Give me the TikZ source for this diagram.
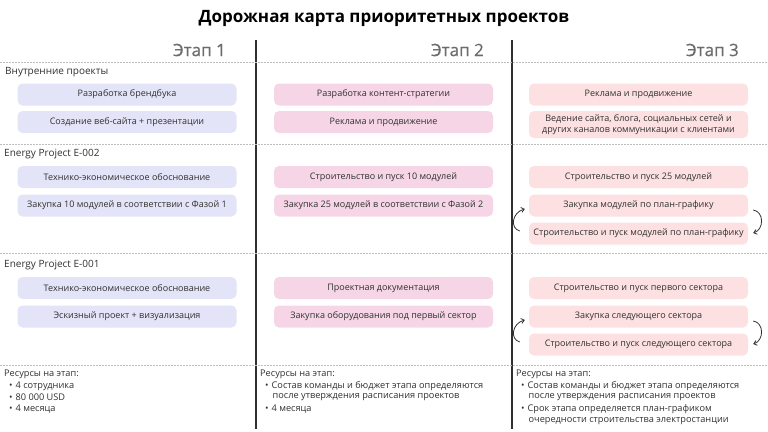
\documentclass[tikz,border=0pt]{standalone}
\usepackage{fontspec}
\setmainfont{Open Sans}
\newfontfamily\stagefont[FakeBold=0.7]{Open Sans}
\usetikzlibrary{arrows.meta,calc}
\definecolor{txt}{HTML}{303030}
\definecolor{stage}{HTML}{6C6C6C}
\definecolor{boxA}{HTML}{E4E4F8}
\definecolor{boxB}{HTML}{F6D6E6}
\definecolor{boxC}{HTML}{FDE1E2}
\definecolor{dash}{HTML}{BDBDBD}
\begin{document}
\begin{tikzpicture}[x=1pt,y=-1pt,
  box/.style={rounded corners=5pt, minimum width=219pt, minimum height=22pt, inner sep=0pt,
    align=center, font=\fontsize{9}{11}\selectfont, text=txt},
  colA/.style={box, fill=boxA},
  colB/.style={box, fill=boxB},
  colC/.style={box, fill=boxC},
  seclabel/.style={anchor=west, inner sep=0pt, font=\fontsize{10}{12}\selectfont, text=txt},
  stagelabel/.style={anchor=east, inner sep=0pt, font=\stagefont\fontsize{17}{20}\selectfont, text=stage},
  resline/.style={anchor=west, inner sep=0pt, font=\fontsize{9.2}{11}\selectfont, text=txt},
  sep/.style={draw=dash, dashed, dash pattern=on 2pt off 1pt, line width=0.6pt},
  vline/.style={draw=txt, line width=1.1pt},
  cyc/.style={draw=txt, line width=0.8pt, -{Straight Barb[length=3pt,width=5pt]}}
]
\useasboundingbox (0,0) rectangle (768,431);

% title
\node[font=\bfseries\fontsize{17}{20}\selectfont, text=black, inner sep=0pt] (title) at (384,18) {Дорожная карта приоритетных проектов};

% vertical separators
\coordinate (v1t) at (256,40); \coordinate (v1b) at (256,429);
\coordinate (v2t) at (512,40); \coordinate (v2b) at (512,429);
\draw[vline] (v1t) -- (v1b);
\draw[vline] (v2t) -- (v2b);

% stage labels
\node[stagelabel] (s1) at (226,50) {Этап 1};
\node[stagelabel] (s2) at (484,50) {Этап 2};
\node[stagelabel] (s3) at (739,50) {Этап 3};

% dashed separators
\coordinate (d1l) at (0,62);  \coordinate (d1r) at (768,62);
\coordinate (d2l) at (0,144); \coordinate (d2r) at (768,144);
\coordinate (d3l) at (0,253); \coordinate (d3r) at (768,253);
\coordinate (d4l) at (0,365); \coordinate (d4r) at (768,365);
\draw[sep] (d1l) -- (d1r);
\draw[sep] (d2l) -- (d2r);
\draw[sep] (d3l) -- (d3r);
\draw[sep] (d4l) -- (d4r);

% section labels
\node[seclabel] (g1) at (5,72) {Внутренние проекты};
\node[seclabel] (g2) at (4,154.5) {Energy Project E-002};
\node[seclabel] (g3) at (4,265) {Energy Project E-001};

% internal projects
\node[colA] (a11) at (127,94.5) {Разработка брендбука};
\node[colA] (a12) at (127,122) {Создание веб-сайта + презентации};
\node[colB] (b11) at (383.5,94.5) {Разработка контент-стратегии};
\node[colB] (b12) at (383.5,122) {Реклама и продвижение};
\node[colC] (c11) at (638.5,94.5) {Реклама и продвижение};
\node[colC, minimum height=27pt, font=\fontsize{9}{10.5}\selectfont] (c12) at (638.5,124.5) {Ведение сайта, блога, социальных сетей и\\других каналов коммуникации с клиентами};

% E-002
\node[colA] (a21) at (127,177) {Технико-экономическое обоснование};
\node[colA] (a22) at (127,205.5) {Закупка 10 модулей в соответствии с Фазой 1};
\node[colB] (b21) at (383.5,177) {Строительство и пуск 10 модулей};
\node[colB] (b22) at (383.5,205.5) {Закупка 25 модулей в соответствии с Фазой 2};
\node[colC] (c21) at (638.5,177) {Строительство и пуск 25 модулей};
\node[colC] (c22) at (638.5,205.5) {Закупка модулей по план-графику};
\node[colC] (c23) at (638.5,233.5) {Строительство и пуск модулей по план-графику};

% E-001
\node[colA] (a31) at (127,288) {Технико-экономическое обоснование};
\node[colA] (a32) at (127,316.5) {Эскизный проект + визуализация};
\node[colB] (b31) at (383.5,288) {Проектная документация};
\node[colB] (b32) at (383.5,316.5) {Закупка оборудования под первый сектор};
\node[colC] (c31) at (638.5,288) {Строительство и пуск первого сектора};
\node[colC] (c32) at (638.5,316.5) {Закупка следующего сектора};
\node[colC] (c33) at (638.5,344.5) {Строительство и пуск следующего сектора};

% cycle arrows
\draw[cyc] ($(c23.west)+(-9,-2.5)$) .. controls ($(c23.west)+(-19,-5)$) and ($(c22.west)+(-17,7)$) .. ($(c22.west)+(-4,3.5)$);
\draw[cyc] ($(c22.east)+(5,4.5)$) .. controls ($(c22.east)+(16,6)$) and ($(c23.east)+(16,-4)$) .. ($(c23.east)+(5,-0.5)$);
\draw[cyc] ($(c33.west)+(-9,-2.5)$) .. controls ($(c33.west)+(-19,-5)$) and ($(c32.west)+(-17,7)$) .. ($(c32.west)+(-4,3.5)$);
\draw[cyc] ($(c32.east)+(5,4.5)$) .. controls ($(c32.east)+(16,6)$) and ($(c33.east)+(16,-4)$) .. ($(c33.east)+(5,-0.5)$);

% resources
\node[resline] (r1h) at (4,374.5) {Ресурсы на этап:};
\node[resline] (r1a) at (9,386) {•\hspace{3pt}4 сотрудника};
\node[resline] (r1b) at (9,397.5) {•\hspace{3pt}80 000 USD};
\node[resline] (r1c) at (9,409) {•\hspace{3pt}4 месяца};

\node[resline] (r2h) at (260,374.5) {Ресурсы на этап:};
\node[resline] (r2a) at (265,386) {•\hspace{3pt}Состав команды и бюджет этапа определяются};
\node[resline] (r2b) at (272.5,397.5) {после утверждения расписания проектов};
\node[resline] (r2c) at (265,409) {•\hspace{3pt}4 месяца};

\node[resline] (r3h) at (516,374.5) {Ресурсы на этап:};
\node[resline] (r3a) at (521,386) {•\hspace{3pt}Состав команды и бюджет этапа определяются};
\node[resline] (r3b) at (528.5,397.5) {после утверждения расписания проектов};
\node[resline] (r3c) at (521,409.5) {•\hspace{3pt}Срок этапа определяется план-графиком};
\node[resline] (r3d) at (528.5,421) {очередности строительства электростанции};
\end{tikzpicture}
\end{document}
